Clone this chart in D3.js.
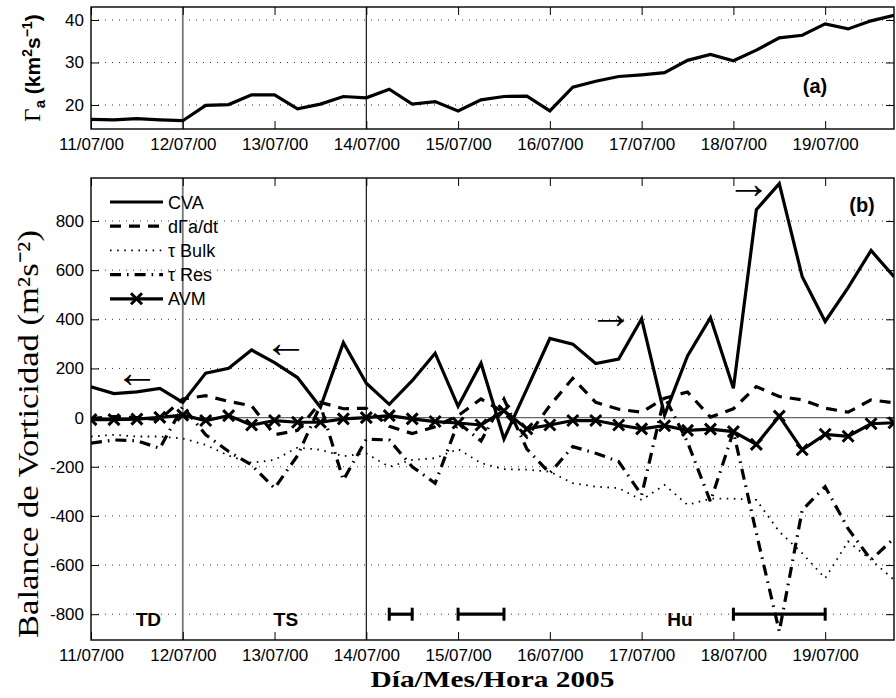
<!DOCTYPE html>
<html><head><meta charset="utf-8">
<script src="https://cdn.jsdelivr.net/npm/d3@7"></script>
<style>body{margin:0;background:#fff}svg{display:block}</style>
</head><body>
<script>
// ---------- data (6-hourly, starting 11/07/2005 00 UTC) ----------
const tickLabels = ["11/07/00","12/07/00","13/07/00","14/07/00","15/07/00","16/07/00","17/07/00","18/07/00","19/07/00"];
const gammaA = [16.6,16.5,16.8,16.5,16.3,19.9,20.1,22.4,22.4,19.1,20.2,22.0,21.7,23.7,20.2,20.8,18.6,21.2,22.0,22.1,18.6,24.2,25.6,26.7,27.1,27.6,30.5,31.9,30.4,32.9,35.8,36.4,39.1,37.9,39.8,41.1];
const cva = [125,98,105,119,62,181,201,275,224,163,42,305,140,54,150,262,46,221,-87,117,322,299,220,238,402,10,251,407,119,846,952,573,391,529,680,573];
const dGammaDt = [-4,4,0,-8,76,89,66,48,-70,-52,62,36,38,-35,-65,-37,8,76,21,-79,49,160,62,34,22,79,104,2,36,126,86,72,38,22,72,60];
const tauBulk = [-77,-70,-77,-77,-85,-111,-155,-184,-172,-122,-131,-157,-146,-200,-172,-165,-128,-185,-210,-212,-220,-267,-281,-287,-335,-274,-355,-330,-330,-335,-464,-552,-654,-504,-579,-660];
const tauRes = [-104,-91,-94,-125,45,-70,-138,-193,-287,-155,50,-254,-88,-91,-200,-267,-20,-95,75,-128,-226,-118,-145,-179,-315,85,-100,-342,-57,-470,-870,-376,-281,-452,-579,-491];
const avm = [-8,-8,-6,1,10,-12,8,-30,-12,-19,-19,-5,0,8,-5,-16,-22,-30,28,-46,-30,-12,-12,-30,-46,-33,-52,-47,-57,-109,6,-131,-68,-76,-25,-21];
const gammaTicks = [20,30,40];
const balanceTicks = [-800,-600,-400,-200,0,200,400,600,800];
const seriesNames = ["CVA","d\u0393a/dt","\u03c4 Bulk","\u03c4 Res","AVM"];
// stage markers (hours after start)
const stageNames = ["TD","TS","Hu"];
const stageHours = [15.7,51.8,154.8];
const stageValue = -850;
const eventStartHours = [78,96,168];
const eventEndHours = [84,108,192];
const eventValue = -800;
const arrowGlyphs = ["\u2190","\u2190","\u2192","\u2192"];
const arrowHours = [12.5,51,136.5,172.3];
const arrowValues = [161,284,400,930];
const dividerDays = [1,3];

// ---------- layout ----------
const W = 896, H = 698;
const L = 91, R = 894;
const topP = {t:7, b:129};
const botP = {t:178, b:640};
const sans = "'Liberation Sans', Arial, Helvetica, sans-serif";
const serif = "'Liberation Serif', 'Times New Roman', serif";

const start = new Date(Date.UTC(2005,6,11,0));
const times = gammaA.map((_, i) => d3.utcHour.offset(start, i*6));
const hour = h => d3.utcHour.offset(start, h);
const x = d3.scaleUtc().domain([start, hour(8*24+18)]).range([L, R]);
const dayTicks = tickLabels.map((_, i) => hour(i*24));

const yTop = d3.scaleLinear().domain([14.35, 43.06]).range([topP.b, topP.t]);
const yBot = d3.scaleLinear().domain([-905, 975]).range([botP.b, botP.t]);

const svg = d3.select("body").append("svg").attr("width", W).attr("height", H)
  .style("font-family", sans);

const defs = svg.append("defs");
defs.append("clipPath").attr("id","clipTop").append("rect")
  .attr("x",L).attr("y",topP.t).attr("width",R-L).attr("height",topP.b-topP.t);
defs.append("clipPath").attr("id","clipBot").append("rect")
  .attr("x",L).attr("y",botP.t).attr("width",R-L).attr("height",botP.b-botP.t);

function panelFrame(y, P, ticks, showZero) {
  const g = svg.append("g");
  // grid
  g.selectAll(".grid").data(ticks.filter(t => t !== 0)).join("line")
    .attr("x1", L).attr("x2", R).attr("y1", d => y(d)).attr("y2", d => y(d))
    .attr("stroke", "#333").attr("stroke-width", 1).attr("stroke-dasharray", "1,6");
  if (showZero) {
    g.append("line").attr("x1", L).attr("x2", R).attr("y1", y(0)).attr("y2", y(0))
      .attr("stroke", "#666").attr("stroke-width", 1.2);
  }
  // divider lines
  g.selectAll(".div").data(dividerDays).join("line")
    .attr("x1", d => x(hour(d*24))).attr("x2", d => x(hour(d*24)))
    .attr("y1", P.t).attr("y2", P.b)
    .attr("stroke", (d,i) => i === 0 ? "#777" : "#000")
    .attr("stroke-width", (d,i) => i === 0 ? 1.8 : 1.1);

  // axes
  const ax = g.append("g").attr("transform", `translate(0,${P.b})`)
    .call(d3.axisBottom(x).tickValues(dayTicks).tickFormat((d,i) => tickLabels[i])
      .tickSizeInner(-8).tickSizeOuter(0).tickPadding(9));
  const axT = g.append("g").attr("transform", `translate(0,${P.t})`)
    .call(d3.axisTop(x).tickValues(dayTicks).tickFormat("").tickSizeInner(-8).tickSizeOuter(0));
  const ayL = g.append("g").attr("transform", `translate(${L},0)`)
    .call(d3.axisLeft(y).tickValues(ticks).tickFormat(d => d < 0 ? "-" + Math.abs(d) : d)
      .tickSizeInner(-8).tickSizeOuter(0).tickPadding(7));
  const ayR = g.append("g").attr("transform", `translate(${R},0)`)
    .call(d3.axisRight(y).tickValues(ticks).tickFormat("").tickSizeInner(-8).tickSizeOuter(0));
  [ax, axT, ayL, ayR].forEach(a => {
    a.select(".domain").remove();
    a.selectAll(".tick line").attr("stroke", "#000").attr("stroke-width", 1);
    a.selectAll("text").attr("font-family", sans).attr("font-size", 17).attr("fill", "#000");
  });
  return g;
}

panelFrame(yTop, topP, gammaTicks, false);
panelFrame(yBot, botP, balanceTicks, true);

// ---------- top panel data ----------
const topG = svg.append("g").attr("clip-path", "url(#clipTop)");
topG.append("path").datum(gammaA)
  .attr("d", d3.line().x((d,i) => x(times[i])).y(d => yTop(d)))
  .attr("fill", "none").attr("stroke", "#000").attr("stroke-width", 3.2).attr("stroke-linejoin","miter");

// ---------- bottom panel data ----------
const styles = [
  {data: cva, dash: null, w: 3.2},
  {data: dGammaDt, dash: "11,8", w: 3.2},
  {data: tauBulk, dash: "1.6,5.5", w: 1.8},
  {data: tauRes, dash: "11,6,1.6,6", w: 3.2},
  {data: avm, dash: null, w: 3.2, marker: true}
];
const botG = svg.append("g").attr("clip-path", "url(#clipBot)");
const line = d3.line().x((d,i) => x(times[i])).y(d => yBot(d));
[2,3,1,0,4].forEach(si => {
  const s = styles[si];
  botG.append("path").datum(s.data).attr("d", line)
    .attr("fill", "none").attr("stroke", "#000").attr("stroke-width", s.w)
    .attr("stroke-dasharray", s.dash).attr("stroke-linejoin", "miter");
});
const xMark = "M-5.5,-5.5L5.5,5.5M5.5,-5.5L-5.5,5.5";
botG.selectAll(".avm").data(avm).join("path")
  .attr("transform", (d,i) => `translate(${x(times[i])},${yBot(d)})`)
  .attr("d", xMark).attr("stroke", "#000").attr("stroke-width", 3).attr("fill", "none");

// events bars
const ev = svg.append("g");
eventStartHours.forEach((h, i) => {
  const x1 = x(hour(h)), x2 = x(hour(eventEndHours[i])), yy = yBot(eventValue);
  ev.append("line").attr("x1", x1).attr("x2", x2).attr("y1", yy).attr("y2", yy)
    .attr("stroke", "#000").attr("stroke-width", 3.2);
  [x1, x2].forEach(xx => ev.append("line").attr("x1", xx).attr("x2", xx)
    .attr("y1", yy - 6.5).attr("y2", yy + 6.5).attr("stroke", "#000").attr("stroke-width", 3));
});
// stage labels
svg.selectAll(".stage").data(stageNames).join("text")
  .attr("x", (d,i) => x(hour(stageHours[i]))).attr("y", yBot(stageValue))
  .attr("text-anchor", "middle").attr("font-weight", "bold").attr("font-size", 19)
  .attr("font-family", sans).text(d => d);
// arrows
const arrowSize = 44;
svg.selectAll(".arr").data(arrowGlyphs).join("text")
  .attr("x", (d,i) => x(hour(arrowHours[i]))).attr("y", (d,i) => yBot(arrowValues[i]) + arrowSize * 0.2)
  .attr("text-anchor", "middle").attr("font-size", arrowSize)
  .attr("font-family", sans).text(d => d);

// ---------- panel boxes ----------
[topP, botP].forEach(P => svg.append("rect").attr("x", L).attr("y", P.t)
  .attr("width", R - L).attr("height", P.b - P.t)
  .attr("fill", "none").attr("stroke", "#000").attr("stroke-width", 1.4));

// panel tags
svg.append("text").attr("x", 815).attr("y", 93).attr("text-anchor", "middle")
  .attr("font-weight", "bold").attr("font-size", 20).text("(a)");
svg.append("text").attr("x", 862).attr("y", 212).attr("text-anchor", "middle")
  .attr("font-weight", "bold").attr("font-size", 20).text("(b)");

// ---------- legend ----------
const lg = svg.append("g");
const legY0 = 202, legDY = 24.2;
seriesNames.forEach((name, i) => {
  const yy = legY0 + i * legDY, s = styles[i];
  lg.append("line").attr("x1", 110).attr("x2", 163).attr("y1", yy).attr("y2", yy)
    .attr("stroke", "#000").attr("stroke-width", s.w).attr("stroke-dasharray", s.dash);
  if (s.marker) lg.append("path").attr("transform", `translate(136.5,${yy})`)
    .attr("d", xMark).attr("stroke", "#000").attr("stroke-width", 3).attr("fill", "none");
  lg.append("text").attr("x", 168).attr("y", yy + 6.5).attr("font-size", 18)
    .attr("font-family", sans).text(name);
});

// ---------- axis titles ----------
const tl = svg.append("text").attr("transform", "translate(40,68) rotate(-90)")
  .attr("text-anchor", "middle").attr("font-size", 21).attr("font-weight", "bold")
  .attr("font-family", sans);
tl.append("tspan").attr("font-family", serif).attr("font-weight", "normal").attr("font-size", 23).text("\u0393");
tl.append("tspan").attr("dy", 5).attr("font-size", 15).text("a");
tl.append("tspan").attr("dy", -5).text(" (km");
tl.append("tspan").attr("dy", -8).attr("font-size", 14).text("2");
tl.append("tspan").attr("dy", 8).text("s");
tl.append("tspan").attr("dy", -8).attr("font-size", 14).text("\u22121");
tl.append("tspan").attr("dy", 8).text(")");

svg.append("text").attr("transform", "translate(38,434) rotate(-90)")
  .attr("text-anchor", "middle").attr("font-size", 30).attr("font-family", serif)
  .attr("textLength", 408).attr("lengthAdjust", "spacingAndGlyphs")
  .text("Balance de Vorticidad (m\u00b2s\u207b\u00b2)");

svg.append("text").attr("x", (L + R) / 2).attr("y", 687)
  .attr("text-anchor", "middle").attr("font-size", 23).attr("font-weight", "bold")
  .attr("font-family", serif).attr("textLength", 244).attr("lengthAdjust", "spacingAndGlyphs")
  .text("D\u00eda/Mes/Hora 2005");
</script>
</body></html>
